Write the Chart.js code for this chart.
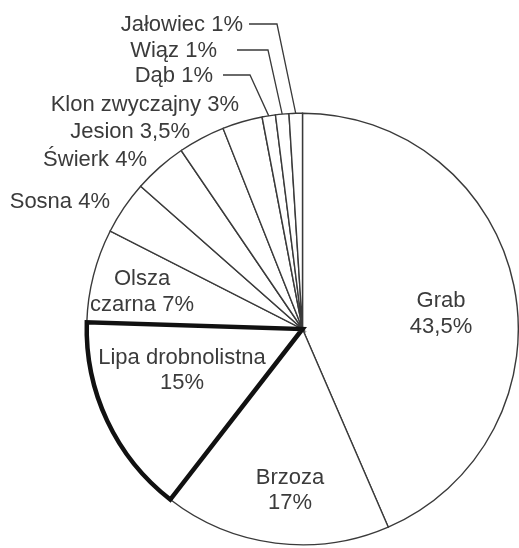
<!DOCTYPE html>
<html>
<head>
<meta charset="utf-8">
<script src="https://cdn.jsdelivr.net/npm/chart.js@4/dist/chart.umd.min.js"></script>
<style>
  html, body { margin: 0; padding: 0; background: #fff; }
  canvas { display: block; }
</style>
</head>
<body>
<canvas id="c" width="519" height="548"></canvas>
<script>
// Udział gatunków drzew w drzewostanie (%)
const species = ['Grab', 'Brzoza', 'Lipa drobnolistna', 'Olsza czarna', 'Sosna', 'Świerk',
                 'Jesion', 'Klon zwyczajny', 'Dąb', 'Wiąz', 'Jałowiec'];
const shares = [43.5, 17, 15, 7, 4, 4, 3.5, 3, 1, 1, 1];
// gatunek wyróżniony grubym obrysem
const highlighted = 'Lipa drobnolistna';

const pct = v => String(v).replace('.', ',') + '%';

// Rozmieszczenie podpisów: wewnątrz wycinka (dwie linie) albo obok koła (z odnośnikiem)
const labelLayout = [
  { inside: true, lines: i => [species[i], pct(shares[i])], x: 441, y: [301, 327] },
  { inside: true, lines: i => [species[i], pct(shares[i])], x: 290, y: [478, 503] },
  { inside: true, lines: i => [species[i], pct(shares[i])], x: 182, y: [358, 383] },
  { inside: true, lines: i => ['Olsza', 'czarna ' + pct(shares[i])], x: 142, y: [279, 305] },
  { right: 110, y: 202 },
  { right: 147, y: 160 },
  { right: 190, y: 132 },
  { right: 239, y: 105 },
  { right: 213, y: 76, leader: [223, 250] },
  { right: 217, y: 51, leader: [237, 268] },
  { right: 243, y: 25, leader: [249, 277] }
];

const INK = '#3a3a3a';
const TEXT = '#3b3b3b';
const FONT = '22px "Liberation Sans", Arial, sans-serif';

const pieLabels = {
  id: 'pieLabels',
  afterDatasetsDraw(chart) {
    const ctx = chart.ctx;
    const arcs = chart.getDatasetMeta(0).data;

    // gruby obrys wyróżnionego wycinka
    const h = arcs[species.indexOf(highlighted)];
    if (h) {
      ctx.save();
      ctx.beginPath();
      ctx.moveTo(h.x, h.y);
      ctx.arc(h.x, h.y, h.outerRadius, h.startAngle, h.endAngle);
      ctx.closePath();
      ctx.lineWidth = 4.5;
      ctx.lineJoin = 'miter';
      ctx.strokeStyle = '#111';
      ctx.stroke();
      ctx.restore();
    }

    ctx.save();
    ctx.font = FONT;
    ctx.fillStyle = TEXT;
    ctx.textBaseline = 'middle';
    labelLayout.forEach((lay, i) => {
      const arc = arcs[i];
      if (lay.inside) {
        ctx.textAlign = 'center';
        lay.lines(i).forEach((t, k) => ctx.fillText(t, lay.x, lay.y[k]));
      } else {
        ctx.textAlign = 'right';
        ctx.fillText(species[i] + ' ' + pct(shares[i]), lay.right, lay.y);
        if (lay.leader) {
          const mid = (arc.startAngle + arc.endAngle) / 2;
          const px = arc.x + Math.cos(mid) * arc.outerRadius;
          const py = arc.y + Math.sin(mid) * arc.outerRadius;
          ctx.beginPath();
          ctx.moveTo(lay.leader[0], lay.y - 1);
          ctx.lineTo(lay.leader[1], lay.y - 1);
          ctx.lineTo(px, py);
          ctx.lineWidth = 1.3;
          ctx.strokeStyle = INK;
          ctx.stroke();
        }
      }
    });
    ctx.restore();
  }
};

new Chart(document.getElementById('c'), {
  type: 'pie',
  data: {
    labels: species,
    datasets: [{
      data: shares,
      backgroundColor: '#ffffff',
      borderColor: INK,
      borderWidth: 1.4,
      borderJoinStyle: 'miter'
    }]
  },
  options: {
    responsive: false,
    animation: false,
    layout: { padding: { left: 86, right: 0, top: 112, bottom: 2 } },
    plugins: {
      legend: { display: false },
      tooltip: { enabled: false }
    }
  },
  plugins: [pieLabels]
});
</script>
</body>
</html>
